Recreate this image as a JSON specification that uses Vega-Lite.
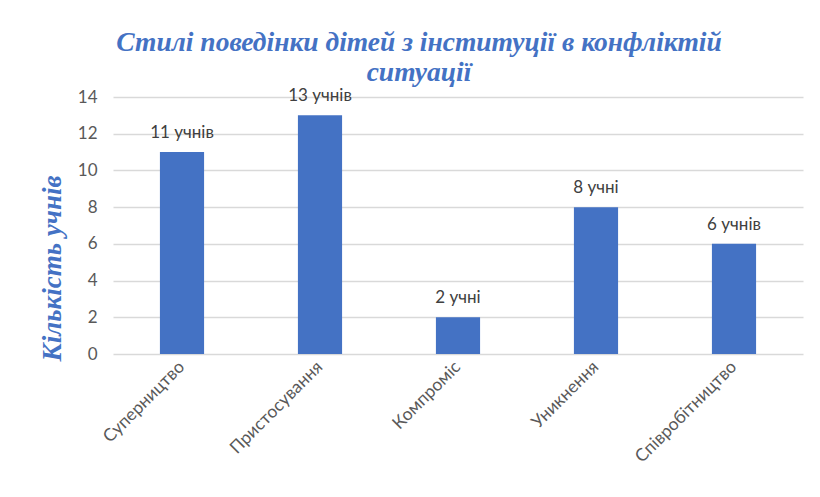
{
  "$schema": "https://vega.github.io/schema/vega-lite/v6.json",
  "autosize": "none",
  "width": 690,
  "height": 257,
  "padding": {"left": 113, "top": 97, "right": 17, "bottom": 143},
  "background": "white",
  "title": {
    "text": ["Стилі поведінки дітей з інституції в конфліктій", "ситуації"],
    "font": "Liberation Serif",
    "fontSize": 27.5,
    "fontStyle": "italic",
    "fontWeight": "bold",
    "color": "#4472C4",
    "anchor": "middle",
    "frame": "group",
    "dx": -39,
    "offset": 1,
    "lineHeight": 30
  },
  "data": {
    "values": [
      {"style": "Суперництво", "count": 11, "label": "11 учнів"},
      {"style": "Пристосування", "count": 13, "label": "13 учнів"},
      {"style": "Компроміс", "count": 2, "label": "2 учні"},
      {"style": "Уникнення", "count": 8, "label": "8 учні"},
      {"style": "Співробітництво", "count": 6, "label": "6 учнів"}
    ]
  },
  "encoding": {
    "x": {
      "field": "style",
      "type": "nominal",
      "sort": null,
      "scale": {"paddingInner": 0.68, "paddingOuter": 0.34},
      "axis": {
        "title": null,
        "labelAngle": -45,
        "labelAlign": "right",
        "labelBaseline": "middle",
        "labelFont": "Lato",
        "labelFontSize": 17.5,
        "labelColor": "#595959",
        "labelPadding": 10,
        "ticks": false,
        "domain": false,
        "grid": false
      }
    },
    "y": {
      "field": "count",
      "type": "quantitative",
      "scale": {"domain": [0, 14]},
      "axis": {
        "title": "Кількість учнів",
        "titleFont": "Liberation Serif",
        "titleFontSize": 27,
        "titleFontStyle": "italic",
        "titleFontWeight": "bold",
        "titleColor": "#4472C4",
        "titleAngle": -90,
        "titleX": -53,
        "titleY": 171,
        "titleAlign": "center",
        "titleBaseline": "alphabetic",
        "values": [0, 2, 4, 6, 8, 10, 12, 14],
        "labelFont": "Lato",
        "labelFontSize": 17,
        "labelColor": "#595959",
        "labelPadding": 16,
        "ticks": false,
        "domain": false,
        "grid": true,
        "gridColor": "#D9D9D9",
        "gridWidth": 1.3
      }
    }
  },
  "layer": [
    {"mark": {"type": "bar", "color": "#4472C4"}},
    {
      "mark": {"type": "text", "font": "Lato", "fontSize": 17, "color": "#404040", "baseline": "alphabetic", "dy": -14},
      "encoding": {"text": {"field": "label"}}
    }
  ],
  "config": {"view": {"stroke": null}}
}
